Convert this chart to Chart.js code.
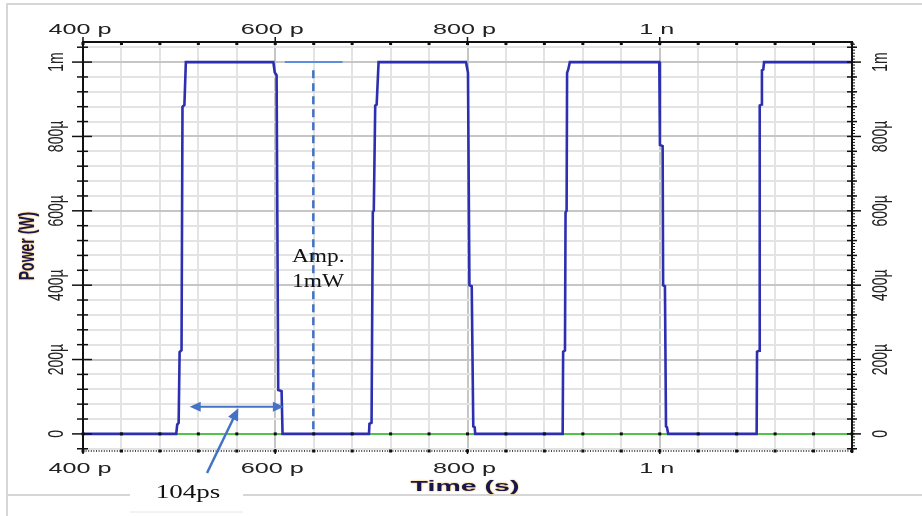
<!DOCTYPE html>
<html><head><meta charset="utf-8">
<script src="https://cdn.jsdelivr.net/npm/chart.js@4.4.1/dist/chart.umd.min.js"></script>
<style>html,body{margin:0;padding:0;background:#fff;}#wrap{width:922px;height:516px;}</style>
</head><body><div id="wrap"><canvas id="c" width="922" height="516"></canvas></div>
<script>
// ---- data (time in ps, power in mW) ----
const timePs = [
  400, 497, 498, 499.5, 500.5, 502.5, 503.5, 505.5, 507,
  598, 599.5, 601.4, 603.1, 606.6, 607.6,
  697.5, 698, 700.2, 701.5, 702.5, 704, 705.5, 707.5,
  798.4, 800.5, 802, 804.4, 806, 807.5, 808,
  899, 899.5, 901.4, 902, 903.1, 903.6, 904.8, 906.5,
  999.5, 1000.2, 1003, 1003.5, 1005.4, 1006.5, 1007.5, 1008.8,
  1100.8, 1101.2, 1103.5, 1104, 1106, 1106.3, 1107.7, 1108.5, 1200
];
const powerMw = [
  0, 0, 0.025, 0.03, 0.22, 0.225, 0.88, 0.885, 1.0,
  1.0, 0.972, 0.965, 0.118, 0.115, 0,
  0, 0.027, 0.03, 0.597, 0.6, 0.883, 0.886, 1.0,
  1.0, 0.971, 0.40, 0.397, 0.02, 0.018, 0,
  0, 0.221, 0.224, 0.596, 0.6, 0.971, 0.98, 1.0,
  1.0, 0.777, 0.774, 0.40, 0.397, 0.02, 0.018, 0,
  0, 0.221, 0.224, 0.883, 0.886, 0.978, 0.98, 1.0, 1.0
];
const refTimePs = [400, 1200];
const refPowerMw = [0, 0];

const xTickValues = [400, 600, 800, 1000];
const xTickLabels = ['400 p', '600 p', '800 p', '1 n'];
const yTickValues = [0, 0.2, 0.4, 0.6, 0.8, 1.0];
const yTickLabels = ['0', '200\u00b5', '400\u00b5', '600\u00b5', '800\u00b5', '1m'];
const xGridStep = 40;
const yGridStep = 0.04;
const xAxisTitle = 'Time (s)';
const yAxisTitle = 'Power (W)';

// annotations (data coordinates)
const ampLine = [639.6, 0.978, 0.006];      // x, yTop, yBottom
const ampTopLine = [610, 670, 1.0];         // x1, x2, y
const widthArrow = [511, 609, 0.073];       // x1, x2, y
const pointerArrow = [529, -0.105, 561.6, 0.069];
const ampLabels = [['Amp.', 617.4, 0.476], ['1mW', 617.4, 0.409]];
const widthLabel = ['104ps', 509.2, -0.159];

// ---- helpers ----
function sText(c, text, x, y, sx, rot, font, color, align) {
  c.save(); c.translate(x, y); c.scale(sx, 1); c.rotate(rot);
  c.font = font; c.fillStyle = color; c.textAlign = align || 'center'; c.textBaseline = 'middle';
  c.fillText(text, 0, 0); c.restore();
}
function arrowHead(c, x1, y1, x2, y2, len, half) {
  const ang = Math.atan2(y2 - y1, x2 - x1);
  c.beginPath();
  c.moveTo(x2, y2);
  c.lineTo(x2 - len * Math.cos(ang) + half * Math.sin(ang), y2 - len * Math.sin(ang) - half * Math.cos(ang));
  c.lineTo(x2 - len * Math.cos(ang) - half * Math.sin(ang), y2 - len * Math.sin(ang) + half * Math.cos(ang));
  c.closePath(); c.fill();
}
const isMajorX = v => xTickValues.some(t => Math.abs(t - v) < 1e-6);
const isMajorY = v => yTickValues.some(t => Math.abs(t - v) < 1e-6);

const decor = {
  id: 'decor',
  beforeDraw(chart) {
    const c = chart.ctx;
    c.save();
    c.fillStyle = '#fff'; c.fillRect(0, 0, chart.width, chart.height);
    c.strokeStyle = '#d6d6d6'; c.lineWidth = 2;
    c.beginPath(); c.moveTo(7, 516); c.lineTo(7, 4); c.lineTo(922, 4); c.stroke();
    c.beginPath(); c.moveTo(7, 495); c.lineTo(130, 495); c.moveTo(243, 495); c.lineTo(922, 495); c.stroke();
    c.lineWidth = 1; c.strokeStyle = '#e6e6e6';
    c.beginPath(); c.moveTo(130, 512); c.lineTo(243, 512); c.stroke();
    c.restore();
  },
  afterDraw(chart) {
    const c = chart.ctx, a = chart.chartArea, xs = chart.scales.x, ys = chart.scales.y;
    c.save();
    // frame of plot
    c.strokeStyle = '#111'; c.lineWidth = 2;
    c.beginPath(); c.moveTo(a.left, a.bottom + 2); c.lineTo(a.left, a.top); c.lineTo(a.right, a.top); c.lineTo(a.right, a.bottom + 2); c.stroke();
    c.lineWidth = 1.5; c.setLineDash([1, 1.6]);
    c.beginPath(); c.moveTo(a.left, a.bottom); c.lineTo(a.right, a.bottom); c.stroke();
    c.setLineDash([]);
    const y0 = ys.getPixelForValue(0);
    c.fillStyle = '#111';
    for (let k = Math.round(xs.min / xGridStep); k * xGridStep <= xs.max + 1e-9; k++) {
      const px = xs.getPixelForValue(k * xGridStep);
      c.fillRect(px - 1.5, a.top, 3, 3);
      c.fillRect(px - 1.5, y0 - 1.5, 3, 3);
      c.fillRect(px - 1.5, a.bottom - 1.5, 3, 3);
    }
    c.strokeStyle = '#111'; c.lineWidth = 1.5;
    xTickValues.forEach(v => {
      const px = xs.getPixelForValue(v);
      c.beginPath(); c.moveTo(px, a.top - 5); c.lineTo(px, a.top + 3); c.stroke();
      c.beginPath(); c.moveTo(px, a.bottom - 2); c.lineTo(px, a.bottom + 3); c.stroke();
    });
    // y ticks
    const k0 = Math.ceil(ys.min / yGridStep), k1 = Math.floor(ys.max / yGridStep + 1e-9);
    for (let k = k0; k <= k1; k++) {
      const v = k * yGridStep, py = ys.getPixelForValue(v);
      const maj = isMajorY(v);
      c.beginPath(); c.moveTo(a.left - (maj ? 11 : 6), py); c.lineTo(a.left + (maj ? 9 : 5), py); c.stroke();
      c.beginPath(); c.moveTo(a.right - 5, py); c.lineTo(a.right + (maj ? 9 : 5), py); c.stroke();
    }
    c.lineWidth = 1;
    for (let k = Math.ceil(ys.min / 0.008); k * 0.008 <= ys.max; k++) {
      const py = ys.getPixelForValue(k * 0.008);
      c.beginPath(); c.moveTo(a.right, py); c.lineTo(a.right + 3, py); c.stroke();
    }
    // tick labels
    const tf = '14px "Liberation Sans", Arial, sans-serif';
    xTickValues.forEach((v, i) => {
      const px = xs.getPixelForValue(v) - 3;
      sText(c, xTickLabels[i], px, 30, 1.8, 0, tf, '#222');
      sText(c, xTickLabels[i], px, 469, 1.8, 0, tf, '#222');
    });
    const yf = '14px "Liberation Sans", Arial, sans-serif';
    yTickValues.forEach((v, i) => {
      const py = ys.getPixelForValue(v);
      sText(c, yTickLabels[i], 57, py, 1.55, -Math.PI / 2, yf, '#222');
      sText(c, yTickLabels[i], 881, py, 1.55, -Math.PI / 2, yf, '#222');
    });
    // axis titles
    c.save();
    c.shadowColor = 'rgba(240,160,0,0.95)'; c.shadowBlur = 2;
    sText(c, yAxisTitle, 28, 246, 1.6, -Math.PI / 2, 'bold 14px "Liberation Sans", Arial, sans-serif', '#17174f');
    sText(c, xAxisTitle, 465, 487, 1.9, 0, 'bold 15px "Liberation Sans", Arial, sans-serif', '#17174f');
    c.restore();

    // annotations
    const blue = '#4472c4';
    c.strokeStyle = blue; c.fillStyle = blue;
    c.lineWidth = 2.5; c.setLineDash([8, 5]);
    const ax = xs.getPixelForValue(ampLine[0]);
    c.beginPath(); c.moveTo(ax, ys.getPixelForValue(ampLine[1])); c.lineTo(ax, ys.getPixelForValue(ampLine[2])); c.stroke();
    c.setLineDash([]);
    c.strokeStyle = '#5b8fd9'; c.lineWidth = 2;
    const ty = ys.getPixelForValue(ampTopLine[2]);
    c.beginPath(); c.moveTo(xs.getPixelForValue(ampTopLine[0]), ty); c.lineTo(xs.getPixelForValue(ampTopLine[1]), ty); c.stroke();
    c.strokeStyle = blue; c.lineWidth = 2.2;
    const wx1 = xs.getPixelForValue(widthArrow[0]), wx2 = xs.getPixelForValue(widthArrow[1]), wy = ys.getPixelForValue(widthArrow[2]);
    c.beginPath(); c.moveTo(wx1 + 6, wy); c.lineTo(wx2 - 6, wy); c.stroke();
    arrowHead(c, wx2, wy, wx1, wy, 11, 5);
    arrowHead(c, wx1, wy, wx2, wy, 11, 5);
    const p1x = xs.getPixelForValue(pointerArrow[0]), p1y = ys.getPixelForValue(pointerArrow[1]);
    const p2x = xs.getPixelForValue(pointerArrow[2]), p2y = ys.getPixelForValue(pointerArrow[3]);
    c.lineWidth = 2.5;
    c.beginPath(); c.moveTo(p1x, p1y); c.lineTo(p2x - (p2x - p1x) * 0.12, p2y - (p2y - p1y) * 0.12); c.stroke();
    arrowHead(c, p1x, p1y, p2x, p2y, 12, 5.5);
    const sf = '18px "Liberation Serif", "Times New Roman", serif';
    ampLabels.forEach(l => sText(c, l[0], xs.getPixelForValue(l[1]), ys.getPixelForValue(l[2]), 1.3, 0, sf, '#111', 'left'));
    sText(c, widthLabel[0], xs.getPixelForValue(widthLabel[1]), ys.getPixelForValue(widthLabel[2]), 1.5, 0, sf, '#111');
    c.restore();
  }
};

const blueData = timePs.map((t, i) => ({ x: t, y: powerMw[i] }));
const greenData = refTimePs.map((t, i) => ({ x: t, y: refPowerMw[i] }));

new Chart(document.getElementById('c'), {
  type: 'line',
  data: {
    datasets: [
      { data: blueData, borderColor: '#2b2fb0', borderWidth: 2.6, pointRadius: 0, tension: 0, fill: false },
      { data: greenData, borderColor: '#52c44a', borderWidth: 2, pointRadius: 0, tension: 0, fill: false }
    ]
  },
  options: {
    responsive: false, animation: false, events: [],
    layout: { padding: 0 },
    plugins: { legend: { display: false }, tooltip: { enabled: false } },
    scales: {
      x: {
        type: 'linear', position: 'bottom', min: 400, max: 1200,
        afterBuildTicks: s => { const t = []; for (let v = 400; v <= 1200; v += xGridStep) t.push({ value: v }); s.ticks = t; },
        afterFit: s => { s.height = 65; },
        ticks: { display: false },
        grid: { drawTicks: false, lineWidth: 2, color: ctx => (ctx.tick && isMajorX(ctx.tick.value)) ? '#c6c6c6' : '#e3e3e3' },
        border: { display: false }
      },
      xTop: {
        type: 'linear', position: 'top', min: 400, max: 1200,
        afterFit: s => { s.height = 42; },
        ticks: { display: false }, grid: { display: false, drawTicks: false }, border: { display: false }
      },
      y: {
        type: 'linear', position: 'left', min: -0.046, max: 1.054,
        afterBuildTicks: s => { const t = []; for (let k = -1; k <= 26; k++) t.push({ value: Math.round(k * yGridStep * 1000) / 1000 }); s.ticks = t; },
        afterFit: s => { s.width = 83; },
        ticks: { display: false },
        grid: { drawTicks: false, lineWidth: 2, color: ctx => (ctx.tick && isMajorY(ctx.tick.value)) ? '#c6c6c6' : '#e3e3e3' },
        border: { display: false }
      },
      yRight: {
        type: 'linear', position: 'right', min: -0.046, max: 1.054,
        afterFit: s => { s.width = 70; },
        ticks: { display: false }, grid: { display: false, drawTicks: false }, border: { display: false }
      }
    }
  },
  plugins: [decor]
});
</script>
</body></html>
